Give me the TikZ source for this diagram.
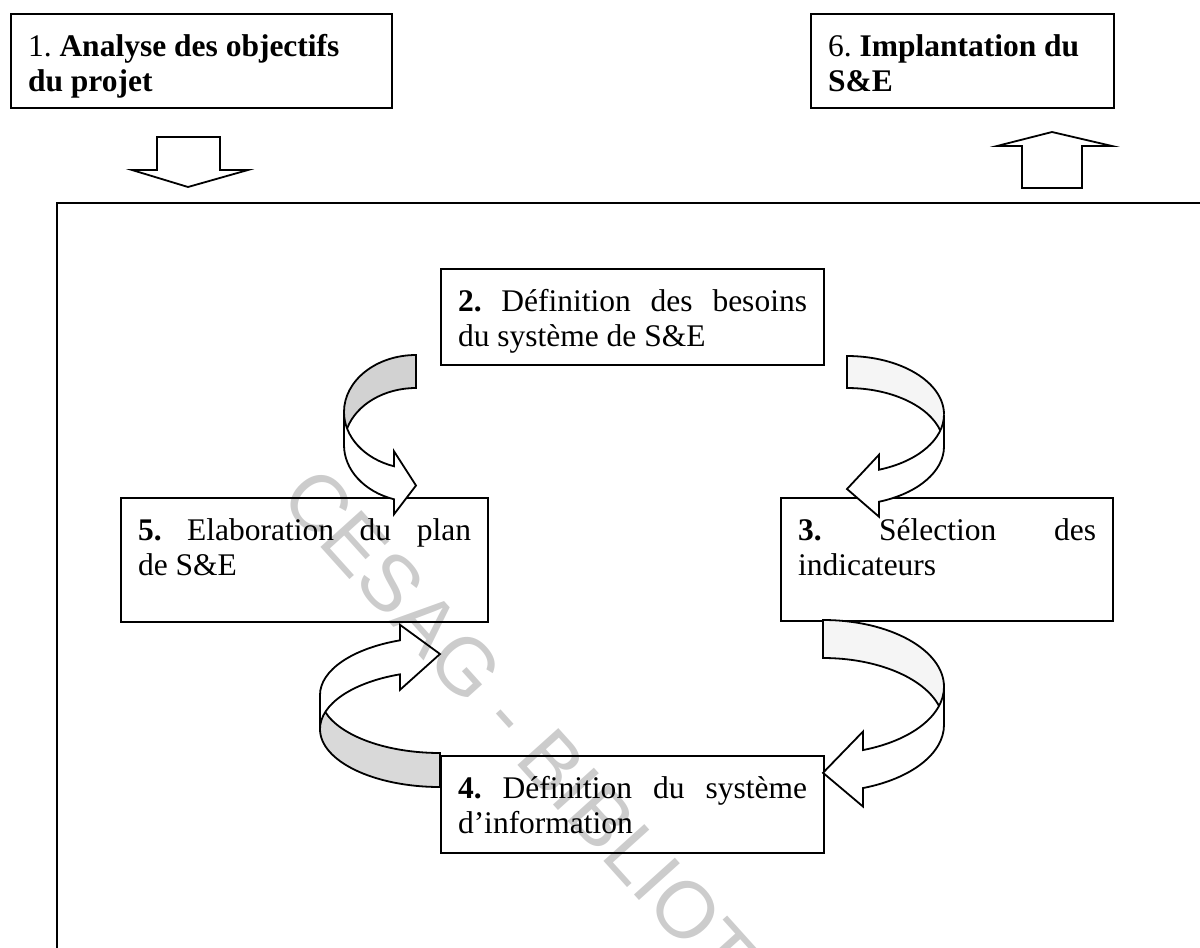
\documentclass[tikz,border=0pt]{standalone}
\usepackage{fontspec}
\setmainfont{Liberation Serif}
\newfontfamily\wmfont{Liberation Sans}
\frenchspacing

% text of a box: fixed height, top aligned, first baseline 21pt below the top
\newcommand\boxtext[3]{\parbox[c][#1][t]{#2}{\rule{0pt}{21pt}#3}}
% a fully justified line
\newcommand\jline[1]{\makebox[\linewidth][s]{#1}}

% curved ribbon arrow in local coordinates (x right, y down):
% #1 width, #2 thickness, #3 vertical radius, #4 head length, #5 head width, #6 fill of the back band
\newcommand\ribbonarrow[6]{%
  \pgfmathsetmacro\rdy{#3*sqrt(#1*#1-#4*#4)/#1}%
  \pgfmathsetmacro\rxa{#1-#4}%
  \pgfmathsetmacro\rya{#3+\rdy}%
  \pgfmathsetmacro\ryb{#3+#2+\rdy}%
  \pgfmathsetmacro\rdh{(#5-#2)/2}%
  \pgfmathsetmacro\rtip{2*#3+#2/2}%
  \pgfmathsetmacro\rphi{180-acos(#4/#1)}%
  \pgfmathsetmacro\rpsi{180+asin(#2/(2*#3))}%
  \pgfmathsetmacro\rchi{180-asin(#2/(2*#3))}%
  % back band
  \fill[#6] (0,#3) arc[start angle=180,end angle=270,x radius=#1,y radius=#3]
    -- (#1,#2) arc[start angle=270,end angle=\rpsi,x radius=#1,y radius=#3]
    arc[start angle=\rchi,end angle=180,x radius=#1,y radius=#3] -- cycle;
  % front band with its head
  \fill[white] (0,#3) arc[start angle=180,end angle=\rphi,x radius=#1,y radius=#3]
    -- ({\rxa},{\rya-\rdh}) -- (#1,{\rtip}) -- ({\rxa},{\ryb+\rdh}) -- ({\rxa},{\ryb})
    arc[start angle=\rphi,end angle=180,x radius=#1,y radius=#3] -- cycle;
  % outline
  \draw[ribbon] (0,#3) arc[start angle=180,end angle=\rphi,x radius=#1,y radius=#3]
    -- ({\rxa},{\rya-\rdh}) -- (#1,{\rtip}) -- ({\rxa},{\ryb+\rdh}) -- ({\rxa},{\ryb})
    arc[start angle=\rphi,end angle=180,x radius=#1,y radius=#3] -- cycle;
  \draw[ribbon] (0,#3) arc[start angle=180,end angle=270,x radius=#1,y radius=#3]
    -- (#1,#2) arc[start angle=270,end angle=\rpsi,x radius=#1,y radius=#3];
}

\begin{document}
\begin{tikzpicture}[x=0.5pt,y=-0.5pt,
  box/.style={draw,line width=1pt,anchor=north west,inner xsep=8.5pt,inner ysep=0pt,
    font=\fontsize{15.75}{17.5}\selectfont},
  ribbon/.style={line width=0.9pt,line join=miter},
  blockarrow/.style={draw,fill=white,line width=0.9pt},
  frame/.style={line width=1pt}]
\useasboundingbox (0,0) rectangle (1200,948);
\fill[white] (0,0) rectangle (1200,948);

% outer frame, open to the right and bottom
\coordinate (fbl) at (57,948);
\coordinate (ftl) at (57,203);
\coordinate (ftr) at (1200,203);
\draw[frame] (fbl) -- (ftl) -- (ftr);

% boxes
\node[box] (b1) at (10,13) {\boxtext{47pt}{173.5pt}{1. \textbf{Analyse des objectifs}\\\textbf{du projet}}};
\node[box] (b6) at (810,13) {\boxtext{47pt}{134.5pt}{6. \textbf{Implantation du}\\\textbf{S\&E}}};
\node[box] (b2) at (440,268) {\boxtext{48pt}{174.5pt}{\jline{\textbf{2.} Définition des besoins}\\du système de S\&E}};
\node[box] (b5) at (120,497) {\boxtext{62pt}{166.5pt}{\jline{\textbf{5.} Elaboration du plan}\\de S\&E}};
\node[box] (b3) at (780,497) {\boxtext{61.5pt}{149pt}{\jline{\textbf{3.} Sélection des}\\indicateurs}};
\node[box] (b4) at (440,755) {\boxtext{48.5pt}{174.5pt}{\jline{\textbf{4.} Définition du système}\\d’information}};

% straight block arrows into and out of the frame
\draw[blockarrow] (157,137) -- (220,137) -- (220,170) -- (248,170) -- (188,187)
  -- (132,170) -- (157,170) -- cycle;
\draw[blockarrow] (1022,188) -- (1082,188) -- (1082,146) -- (1112,146) -- (1052,132)
  -- (997,146) -- (1022,146) -- cycle;

% curved arrows of the cycle
\begin{scope}[shift={(344,355)}]
  \ribbonarrow{72}{33}{57}{22}{63}{gray!35}
\end{scope}
\begin{scope}[shift={(944,356)},xscale=-1]
  \ribbonarrow{97}{32}{58.5}{32}{62}{gray!8}
\end{scope}
\begin{scope}[shift={(944,620)},xscale=-1]
  \ribbonarrow{121}{38}{66.9}{40}{75}{gray!8}
\end{scope}
\begin{scope}[shift={(320,787)},yscale=-1]
  \ribbonarrow{120}{34}{58}{40}{65}{gray!30}
\end{scope}

% library stamp laid over the drawing
\begin{scope}
\clip (0,0) rectangle (1200,948);
\node[text=black,text opacity=0.2,font=\wmfont\fontsize{40}{42}\selectfont,
  rotate=-48,anchor=base west,inner sep=0pt] (wm)
  at (278,499) {CESAG - BIBLIOTHEQUE};
\end{scope}
\end{tikzpicture}
\end{document}
